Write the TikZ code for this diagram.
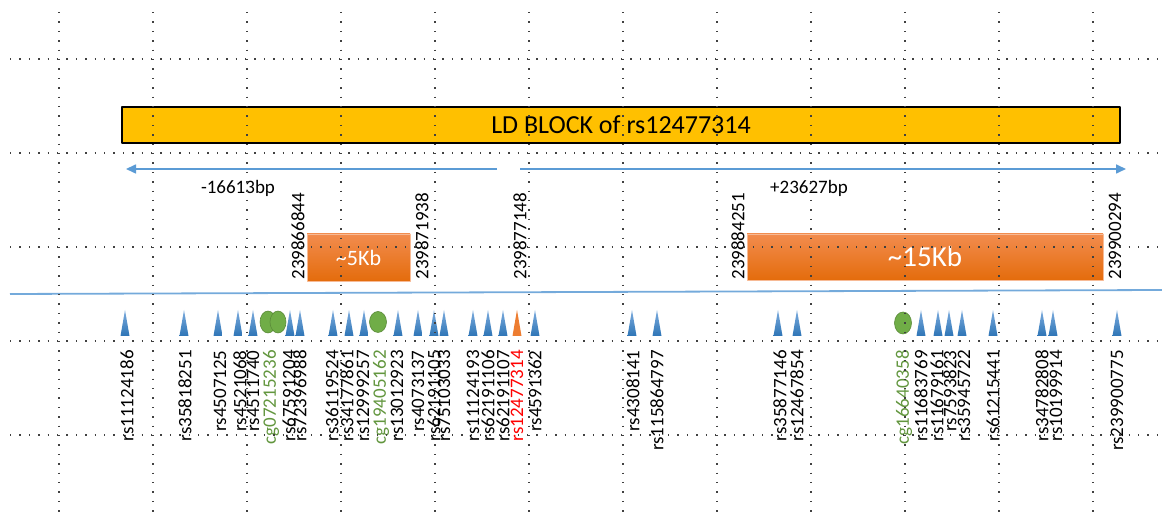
\documentclass[tikz,border=0pt]{standalone}
\usepackage{fontspec}
\setmainfont{Carlito}
\usetikzlibrary{arrows.meta}

\definecolor{ldgold}{RGB}{255,192,0}
\definecolor{axisblue}{RGB}{91,155,213}
\definecolor{snpblue}{RGB}{46,117,182}
\definecolor{snplight}{RGB}{125,172,222}
\definecolor{kbtop}{RGB}{242,140,78}
\definecolor{kbbottom}{RGB}{228,108,12}
\definecolor{cpggreen}{RGB}{112,173,71}
\definecolor{cpgtext}{RGB}{98,150,62}
\definecolor{leadorange}{RGB}{237,125,49}

\begin{document}
\begin{tikzpicture}[
    % one unit = one pixel of the layout, y runs downwards
    x=0.5pt, y=-0.5pt,
    line join=round
]

% ---------------------------------------------------------
% 1. PAGE FRAME (1162 x 512)
% ---------------------------------------------------------
\path [use as bounding box] (0,0) rectangle (1162,512);

\tikzset{grid dots/.style={black!75, line width=0.7pt, dash pattern=on 0.7pt off 4pt}}
\tikzset{span arrow/.style={axisblue, line width=0.8pt, -{Triangle[length=5pt, width=4.5pt]}}}
\tikzset{small text/.style={font=\fontsize{9.5}{11}\selectfont, inner sep=0pt}}
\tikzset{snp label/.style={small text, rotate=90, anchor=east}}
\tikzset{pos label/.style={small text, rotate=90, anchor=west}}
\tikzset{kb box/.style={top color=kbtop, bottom color=kbbottom, draw=kbtop!60!white,
    line width=0.4pt, text=white, inner sep=0pt}}
\tikzset{cpg mark/.style={fill=cpggreen, draw=cpggreen!80!black, line width=0.3pt}}

% ---------------------------------------------------------
% 2. LD BLOCK AND SPAN ARROWS
% ---------------------------------------------------------
\node[fill=ldgold, draw=black, line width=0.6pt, minimum width=499pt, minimum height=18pt,
      inner sep=0pt, font=\fontsize{13}{15}\selectfont] (ldblock) at (621,125) {LD BLOCK of rs12477314};

\coordinate (leftTail)  at (497,169);
\coordinate (leftTip)   at (126,169);
\coordinate (rightTail) at (520,169);
\coordinate (rightTip)  at (1126,169);

\draw[span arrow] (leftTail) -- (leftTip);
\draw[span arrow] (rightTail) -- (rightTip);

\node[small text] (upstream)   at (238,188) {-16613bp};
\node[small text] (downstream) at (809,188) {+23627bp};

% ---------------------------------------------------------
% 3. REGION BOXES WITH THEIR END POSITIONS
% ---------------------------------------------------------
\node[kb box, minimum width=51.5pt, minimum height=23.5pt,
      font=\fontsize{11}{13}\selectfont] (box5) at (358.5,257.5) {\textasciitilde5Kb};
\node[kb box, minimum width=178pt, minimum height=23pt,
      font=\fontsize{14.5}{17}\selectfont] (box15) at (925,257) {\textasciitilde15Kb};

\foreach \px/\pos [count=\i] in {298/239866844, 422/239871938, 520/239877148,
                                 738/239884251, 1115/239900294}
    \node[pos label] (pos\i) at (\px,280) {\pos};

% chromosome axis
\coordinate (axisL) at (10,294);
\coordinate (axisR) at (1162,290);
\draw[axisblue!85, line width=0.9pt] (axisL) -- (axisR);

% ---------------------------------------------------------
% 4. SNPs AND CpG SITES
% ---------------------------------------------------------
\foreach \tx/\lx/\snp [count=\i] in {
    125/127/rs11124186, 184/185/rs35818251, 218/220/rs4507125, 238/240/rs4521068,
    253/253/rs4511740, 290/289/rs67591204, 300/300/rs72396988, 333/332/rs36119524,
    349/347/rs34177861, 364/363/rs12999257, 398/397/rs13012923, 418/418/rs4073137,
    434/434/rs62191105, 444/444/rs75103033, 473/473/rs11124193, 488/488/rs62191106,
    503/503/rs62191107, 535/535/rs4591362, 632/633/rs4308141, 657/657/rs115864797,
    778/780/rs35877146, 797/797/rs12467854, 921/921/rs11683769, 938/937/rs11679161,
    949/950/rs7593823, 962/964/rs35945722, 993/993/rs61215441, 1042/1042/rs34782808,
    1053/1056/rs10199914, 1117/1117/rs239900775}
{
    \shade[top color=snplight, bottom color=snpblue] (\tx-4.5,336) -- (\tx,310) -- (\tx+4.5,336) -- cycle;
    \node[snp label] (snp\i) at (\lx,350) {\snp};
}

% lead SNP
\fill[leadorange] (512.5,336) -- (517,310) -- (521.5,336) -- cycle;
\node[snp label, text=red] (lead) at (517,350) {rs12477314};

% CpG sites
\path[cpg mark] (268,322) ellipse [x radius=8, y radius=11];
\path[cpg mark] (278,322) ellipse [x radius=8, y radius=11];
\path[cpg mark] (378,322) ellipse [x radius=8.5, y radius=10.5];
\path[cpg mark] (903,323) ellipse [x radius=8.5, y radius=11];

\node[snp label, text=cpgtext] (cpg1) at (271,350) {cg07215236};
\node[snp label, text=cpgtext] (cpg2) at (381,350) {cg19405162};
\node[snp label, text=cpgtext] (cpg3) at (904,350) {cg16640358};

% ---------------------------------------------------------
% 5. DOTTED GRID ON TOP
% ---------------------------------------------------------
\foreach \gx in {59,153,...,1093}
    \draw[grid dots] (\gx,12) -- (\gx,512);
\foreach \gy in {59,153,247,341,435}
    \draw[grid dots] (10,\gy) -- (1162,\gy);

\end{tikzpicture}
\end{document}
